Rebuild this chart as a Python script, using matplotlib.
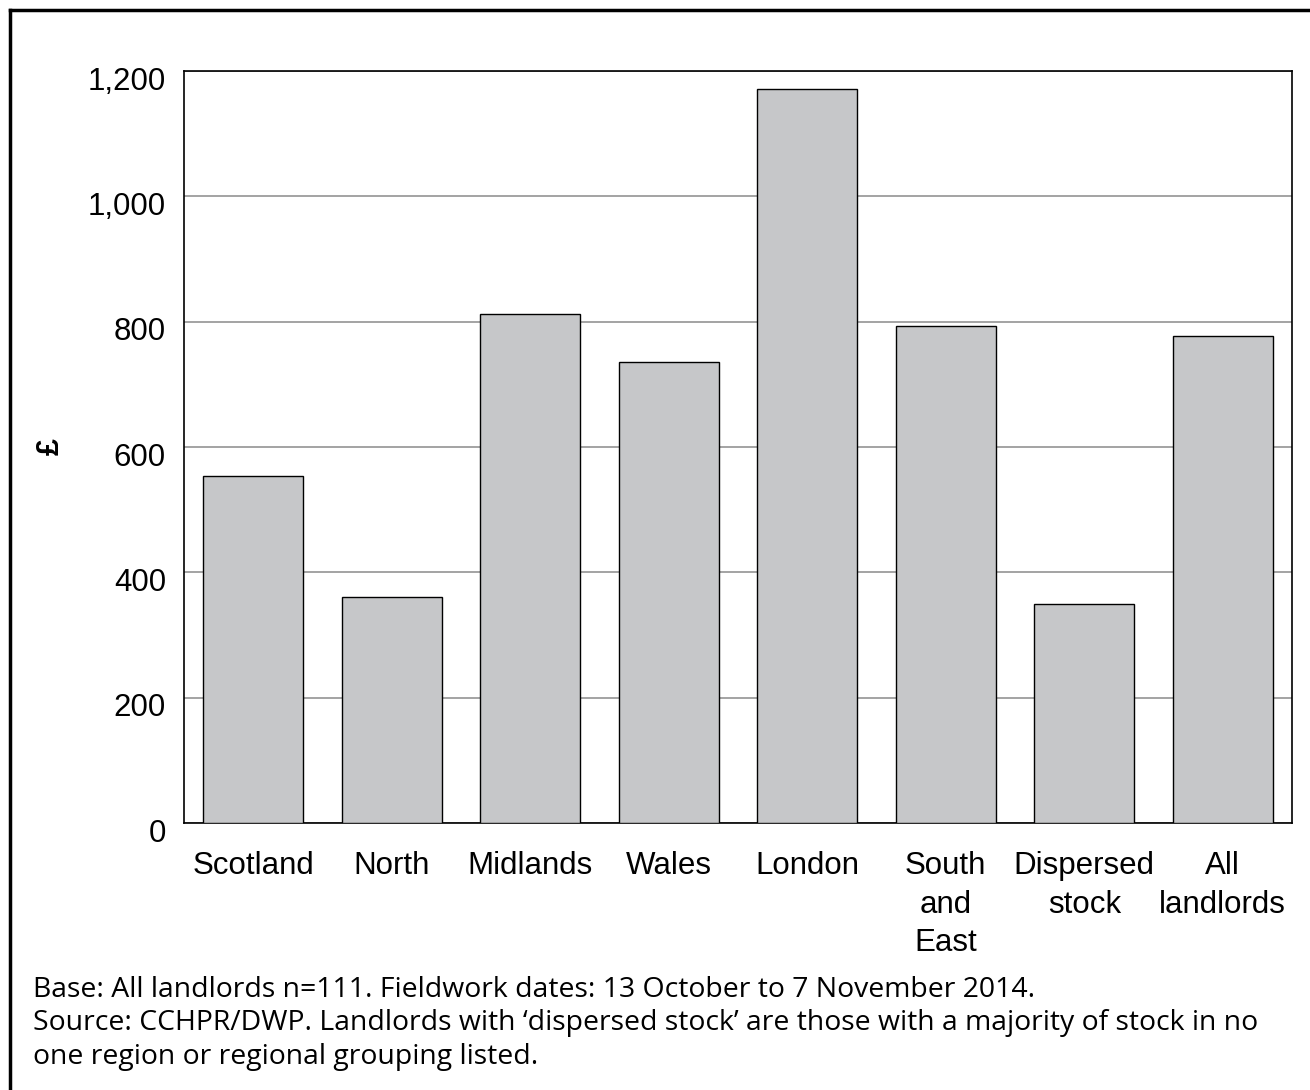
import matplotlib.pyplot as plt
from matplotlib.lines import Line2D
from matplotlib.transforms import ScaledTranslation
import numpy as np

categories = ["Scotland", "North", "Midlands", "Wales", "London",
              "South\nand\nEast", "Dispersed\nstock", "All\nlandlords"]
values = [554, 360, 812, 735, 1171, 793, 350, 777]
yticks = [0, 200, 400, 600, 800, 1000, 1200]
ytick_labels = ["0", "200", "400", "600", "800", "1,000", "1,200"]
footer = ("Base: All landlords n=111. Fieldwork dates: 13 October to 7 November 2014.\n"
          "Source: CCHPR/DWP. Landlords with \u2018dispersed stock\u2019 are those with a majority of stock in no\n"
          "one region or regional grouping listed.")

plt.rcParams["font.family"] = ["Liberation Sans", "DejaVu Sans"]

fig = plt.figure(figsize=(13.1, 10.9), dpi=100)
ax = fig.add_axes([184 / 1310, 1 - 823 / 1090, 1108 / 1310, 752 / 1090])

x = np.arange(len(categories))
ax.bar(x, values, width=0.72, color="#c6c7c9", edgecolor="black", linewidth=1.0, zorder=3)

ax.set_xlim(-0.5, len(categories) - 0.5)
ax.set_ylim(0, 1200)
ax.set_yticks(yticks)
ax.set_yticklabels(ytick_labels)
ax.set_xticks(x)
ax.set_xticklabels(categories, linespacing=1.38)
ax.tick_params(axis="y", length=0, pad=13, labelsize=22.5)
ax.tick_params(axis="x", length=0, pad=20, labelsize=22.5)
ax.yaxis.grid(True, color="#a3a3a3", linewidth=1.4, zorder=0)
for s in ax.spines.values():
    s.set_color("black")
    s.set_linewidth(1.2)

# y tick labels sit a little below their gridlines in the original
shift = ScaledTranslation(0, -7 / 100, fig.dpi_scale_trans)
for lab in ax.get_yticklabels():
    lab.set_transform(lab.get_transform() + shift)

ax.set_ylabel("\u00a3", fontsize=22, fontweight="bold")
ax.yaxis.set_label_coords((66 - 184) / 1108, 0.5)

fig.text(33 / 1310, 1 - 976 / 1090, footer, ha="left", va="top",
         fontsize=20.4, linespacing=1.26,
         family=["Open Sans", "DejaVu Sans"])

# outer frame (left and top edges)
fig.add_artist(Line2D([10 / 1310, 10 / 1310], [0, 1 - 10 / 1090],
                      transform=fig.transFigure, color="black", linewidth=2.5))
fig.add_artist(Line2D([10 / 1310, 1], [1 - 10 / 1090, 1 - 10 / 1090],
                      transform=fig.transFigure, color="black", linewidth=2.5))

fig.savefig("out.png", dpi=100)
